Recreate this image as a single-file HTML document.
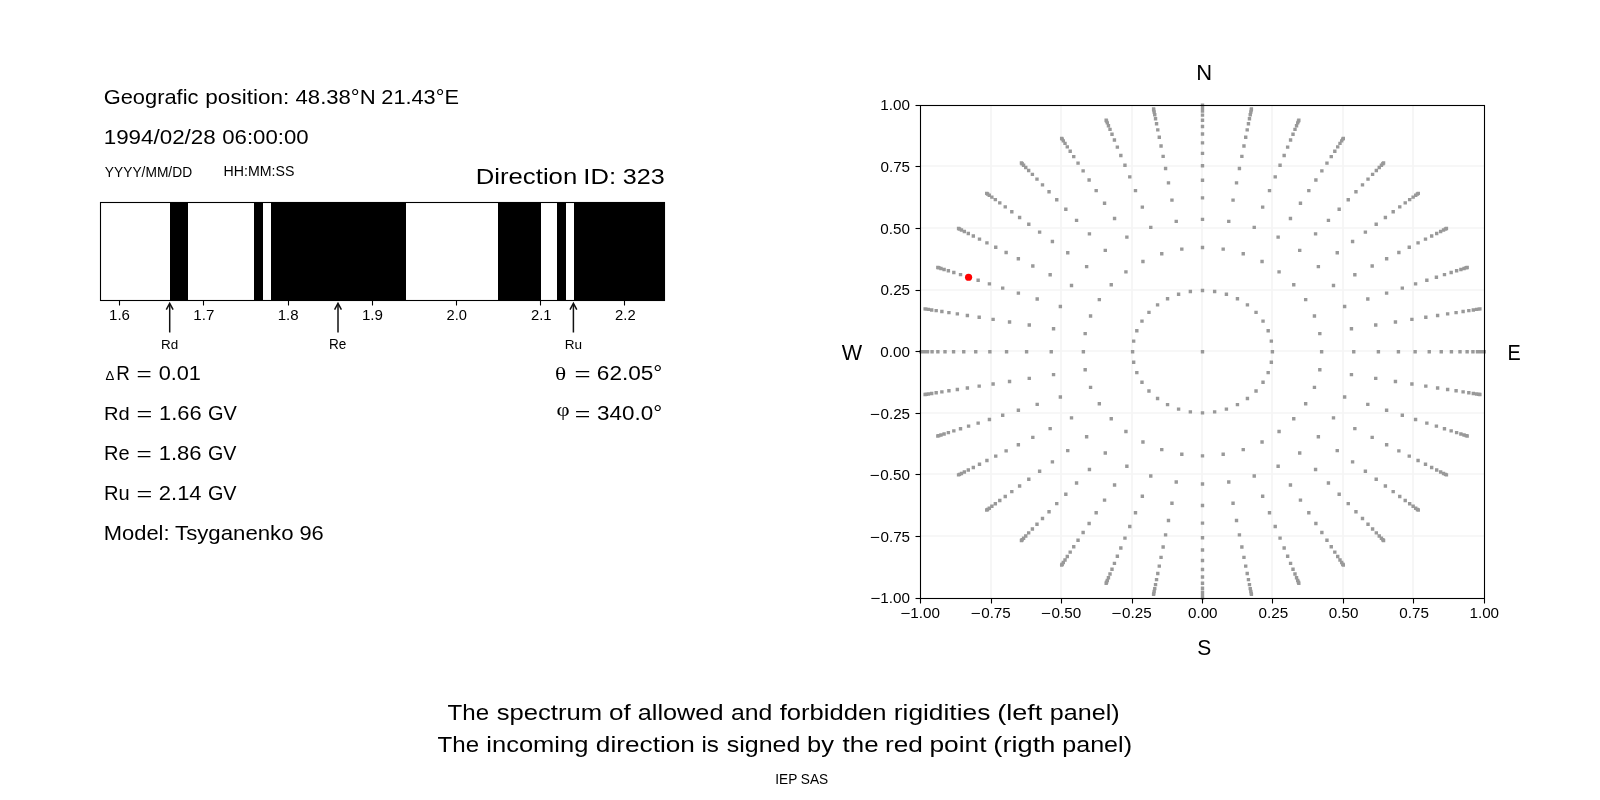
<!DOCTYPE html>
<html><head><meta charset="utf-8"><title>Rigidity spectrum</title>
<style>html,body{margin:0;padding:0;background:#fff;width:1600px;height:800px;overflow:hidden}
svg{display:block;will-change:transform}text{fill:#000}.b{}</style></head>
<body><svg width="1600" height="800" viewBox="0 0 1600 800">
<rect width="1600" height="800" fill="#fff"/>
<rect x="170" y="202" width="18" height="99" fill="#000"/>
<rect x="254" y="202" width="9" height="99" fill="#000"/>
<rect x="271" y="202" width="135" height="99" fill="#000"/>
<rect x="498" y="202" width="43" height="99" fill="#000"/>
<rect x="557" y="202" width="9" height="99" fill="#000"/>
<rect x="574" y="202" width="91" height="99" fill="#000"/>
<rect x="100.5" y="202.5" width="564" height="98" fill="none" stroke="#000" stroke-width="1.1"/>
<line x1="119.50" y1="300.5" x2="119.50" y2="305.5" stroke="#000" stroke-width="1.1"/>
<line x1="203.50" y1="300.5" x2="203.50" y2="305.5" stroke="#000" stroke-width="1.1"/>
<line x1="288.50" y1="300.5" x2="288.50" y2="305.5" stroke="#000" stroke-width="1.1"/>
<line x1="372.50" y1="300.5" x2="372.50" y2="305.5" stroke="#000" stroke-width="1.1"/>
<line x1="456.50" y1="300.5" x2="456.50" y2="305.5" stroke="#000" stroke-width="1.1"/>
<line x1="540.50" y1="300.5" x2="540.50" y2="305.5" stroke="#000" stroke-width="1.1"/>
<line x1="624.50" y1="300.5" x2="624.50" y2="305.5" stroke="#000" stroke-width="1.1"/>
<line x1="169.70" y1="304" x2="169.70" y2="332.5" stroke="#111" stroke-width="1.5"/>
<polyline points="166.30,309.6 169.70,303.3 173.10,309.6" fill="none" stroke="#111" stroke-width="1.5" stroke-linejoin="miter"/>
<line x1="338.00" y1="304" x2="338.00" y2="332.5" stroke="#111" stroke-width="1.5"/>
<polyline points="334.60,309.6 338.00,303.3 341.40,309.6" fill="none" stroke="#111" stroke-width="1.5" stroke-linejoin="miter"/>
<line x1="573.40" y1="304" x2="573.40" y2="332.5" stroke="#111" stroke-width="1.5"/>
<polyline points="570.00,309.6 573.40,303.3 576.80,309.6" fill="none" stroke="#111" stroke-width="1.5" stroke-linejoin="miter"/>
<line x1="991.00" y1="105.5" x2="991.00" y2="598.5" stroke="#f5f5f5" stroke-width="1.7"/>
<line x1="920.5" y1="536.00" x2="1484.5" y2="536.00" stroke="#f5f5f5" stroke-width="1.7"/>
<line x1="1061.00" y1="105.5" x2="1061.00" y2="598.5" stroke="#f5f5f5" stroke-width="1.7"/>
<line x1="920.5" y1="474.00" x2="1484.5" y2="474.00" stroke="#f5f5f5" stroke-width="1.7"/>
<line x1="1132.00" y1="105.5" x2="1132.00" y2="598.5" stroke="#f5f5f5" stroke-width="1.7"/>
<line x1="920.5" y1="413.00" x2="1484.5" y2="413.00" stroke="#f5f5f5" stroke-width="1.7"/>
<line x1="1202.00" y1="105.5" x2="1202.00" y2="598.5" stroke="#f5f5f5" stroke-width="1.7"/>
<line x1="920.5" y1="351.00" x2="1484.5" y2="351.00" stroke="#f5f5f5" stroke-width="1.7"/>
<line x1="1272.00" y1="105.5" x2="1272.00" y2="598.5" stroke="#f5f5f5" stroke-width="1.7"/>
<line x1="920.5" y1="290.00" x2="1484.5" y2="290.00" stroke="#f5f5f5" stroke-width="1.7"/>
<line x1="1343.00" y1="105.5" x2="1343.00" y2="598.5" stroke="#f5f5f5" stroke-width="1.7"/>
<line x1="920.5" y1="228.00" x2="1484.5" y2="228.00" stroke="#f5f5f5" stroke-width="1.7"/>
<line x1="1413.00" y1="105.5" x2="1413.00" y2="598.5" stroke="#f5f5f5" stroke-width="1.7"/>
<line x1="920.5" y1="166.00" x2="1484.5" y2="166.00" stroke="#f5f5f5" stroke-width="1.7"/>
<path d="M1200.80 350.00h3.4v3.4h-3.4zM1270.70 350.00h3.4v3.4h-3.4zM1269.64 339.38h3.4v3.4h-3.4zM1266.48 329.09h3.4v3.4h-3.4zM1261.33 319.43h3.4v3.4h-3.4zM1254.34 310.70h3.4v3.4h-3.4zM1245.73 303.16h3.4v3.4h-3.4zM1235.75 297.05h3.4v3.4h-3.4zM1224.71 292.55h3.4v3.4h-3.4zM1212.94 289.79h3.4v3.4h-3.4zM1200.80 288.86h3.4v3.4h-3.4zM1188.66 289.79h3.4v3.4h-3.4zM1176.89 292.55h3.4v3.4h-3.4zM1165.85 297.05h3.4v3.4h-3.4zM1155.87 303.16h3.4v3.4h-3.4zM1147.26 310.70h3.4v3.4h-3.4zM1140.27 319.43h3.4v3.4h-3.4zM1135.12 329.09h3.4v3.4h-3.4zM1131.96 339.38h3.4v3.4h-3.4zM1130.90 350.00h3.4v3.4h-3.4zM1131.96 360.62h3.4v3.4h-3.4zM1135.12 370.91h3.4v3.4h-3.4zM1140.27 380.57h3.4v3.4h-3.4zM1147.26 389.30h3.4v3.4h-3.4zM1155.87 396.84h3.4v3.4h-3.4zM1165.85 402.95h3.4v3.4h-3.4zM1176.89 407.45h3.4v3.4h-3.4zM1188.66 410.21h3.4v3.4h-3.4zM1200.80 411.14h3.4v3.4h-3.4zM1212.94 410.21h3.4v3.4h-3.4zM1224.71 407.45h3.4v3.4h-3.4zM1235.75 402.95h3.4v3.4h-3.4zM1245.73 396.84h3.4v3.4h-3.4zM1254.34 389.30h3.4v3.4h-3.4zM1261.33 380.57h3.4v3.4h-3.4zM1266.48 370.91h3.4v3.4h-3.4zM1269.64 360.62h3.4v3.4h-3.4zM1319.93 350.00h3.4v3.4h-3.4zM1318.12 331.90h3.4v3.4h-3.4zM1312.74 314.36h3.4v3.4h-3.4zM1303.97 297.90h3.4v3.4h-3.4zM1292.06 283.02h3.4v3.4h-3.4zM1277.37 270.17h3.4v3.4h-3.4zM1260.36 259.76h3.4v3.4h-3.4zM1241.54 252.08h3.4v3.4h-3.4zM1221.49 247.38h3.4v3.4h-3.4zM1200.80 245.79h3.4v3.4h-3.4zM1180.11 247.38h3.4v3.4h-3.4zM1160.06 252.08h3.4v3.4h-3.4zM1141.24 259.76h3.4v3.4h-3.4zM1124.23 270.17h3.4v3.4h-3.4zM1109.54 283.02h3.4v3.4h-3.4zM1097.63 297.90h3.4v3.4h-3.4zM1088.86 314.36h3.4v3.4h-3.4zM1083.48 331.90h3.4v3.4h-3.4zM1081.67 350.00h3.4v3.4h-3.4zM1083.48 368.10h3.4v3.4h-3.4zM1088.86 385.64h3.4v3.4h-3.4zM1097.63 402.10h3.4v3.4h-3.4zM1109.54 416.98h3.4v3.4h-3.4zM1124.23 429.83h3.4v3.4h-3.4zM1141.24 440.24h3.4v3.4h-3.4zM1160.06 447.92h3.4v3.4h-3.4zM1180.11 452.62h3.4v3.4h-3.4zM1200.80 454.21h3.4v3.4h-3.4zM1221.49 452.62h3.4v3.4h-3.4zM1241.54 447.92h3.4v3.4h-3.4zM1260.36 440.24h3.4v3.4h-3.4zM1277.37 429.83h3.4v3.4h-3.4zM1292.06 416.98h3.4v3.4h-3.4zM1303.97 402.10h3.4v3.4h-3.4zM1312.74 385.64h3.4v3.4h-3.4zM1318.12 368.10h3.4v3.4h-3.4zM1352.05 350.00h3.4v3.4h-3.4zM1349.75 327.03h3.4v3.4h-3.4zM1342.93 304.75h3.4v3.4h-3.4zM1331.79 283.85h3.4v3.4h-3.4zM1316.67 264.96h3.4v3.4h-3.4zM1298.02 248.65h3.4v3.4h-3.4zM1276.43 235.42h3.4v3.4h-3.4zM1252.53 225.67h3.4v3.4h-3.4zM1227.06 219.70h3.4v3.4h-3.4zM1200.80 217.69h3.4v3.4h-3.4zM1174.54 219.70h3.4v3.4h-3.4zM1149.07 225.67h3.4v3.4h-3.4zM1125.17 235.42h3.4v3.4h-3.4zM1103.58 248.65h3.4v3.4h-3.4zM1084.93 264.96h3.4v3.4h-3.4zM1069.81 283.85h3.4v3.4h-3.4zM1058.67 304.75h3.4v3.4h-3.4zM1051.85 327.03h3.4v3.4h-3.4zM1049.55 350.00h3.4v3.4h-3.4zM1051.85 372.97h3.4v3.4h-3.4zM1058.67 395.25h3.4v3.4h-3.4zM1069.81 416.15h3.4v3.4h-3.4zM1084.93 435.04h3.4v3.4h-3.4zM1103.58 451.35h3.4v3.4h-3.4zM1125.17 464.58h3.4v3.4h-3.4zM1149.07 474.33h3.4v3.4h-3.4zM1174.54 480.30h3.4v3.4h-3.4zM1200.80 482.31h3.4v3.4h-3.4zM1227.06 480.30h3.4v3.4h-3.4zM1252.53 474.33h3.4v3.4h-3.4zM1276.43 464.58h3.4v3.4h-3.4zM1298.02 451.35h3.4v3.4h-3.4zM1316.67 435.04h3.4v3.4h-3.4zM1331.79 416.15h3.4v3.4h-3.4zM1342.93 395.25h3.4v3.4h-3.4zM1349.75 372.97h3.4v3.4h-3.4zM1376.70 350.00h3.4v3.4h-3.4zM1374.03 323.28h3.4v3.4h-3.4zM1366.10 297.37h3.4v3.4h-3.4zM1353.14 273.07h3.4v3.4h-3.4zM1335.55 251.09h3.4v3.4h-3.4zM1313.87 232.13h3.4v3.4h-3.4zM1288.75 216.74h3.4v3.4h-3.4zM1260.96 205.41h3.4v3.4h-3.4zM1231.35 198.47h3.4v3.4h-3.4zM1200.80 196.13h3.4v3.4h-3.4zM1170.25 198.47h3.4v3.4h-3.4zM1140.64 205.41h3.4v3.4h-3.4zM1112.85 216.74h3.4v3.4h-3.4zM1087.73 232.13h3.4v3.4h-3.4zM1066.05 251.09h3.4v3.4h-3.4zM1048.46 273.07h3.4v3.4h-3.4zM1035.50 297.37h3.4v3.4h-3.4zM1027.57 323.28h3.4v3.4h-3.4zM1024.90 350.00h3.4v3.4h-3.4zM1027.57 376.72h3.4v3.4h-3.4zM1035.50 402.63h3.4v3.4h-3.4zM1048.46 426.93h3.4v3.4h-3.4zM1066.05 448.91h3.4v3.4h-3.4zM1087.73 467.87h3.4v3.4h-3.4zM1112.85 483.26h3.4v3.4h-3.4zM1140.64 494.59h3.4v3.4h-3.4zM1170.25 501.53h3.4v3.4h-3.4zM1200.80 503.87h3.4v3.4h-3.4zM1231.35 501.53h3.4v3.4h-3.4zM1260.96 494.59h3.4v3.4h-3.4zM1288.75 483.26h3.4v3.4h-3.4zM1313.87 467.87h3.4v3.4h-3.4zM1335.55 448.91h3.4v3.4h-3.4zM1353.14 426.93h3.4v3.4h-3.4zM1366.10 402.63h3.4v3.4h-3.4zM1374.03 376.72h3.4v3.4h-3.4zM1396.73 350.00h3.4v3.4h-3.4zM1393.75 320.24h3.4v3.4h-3.4zM1384.91 291.38h3.4v3.4h-3.4zM1370.48 264.31h3.4v3.4h-3.4zM1350.89 239.84h3.4v3.4h-3.4zM1326.74 218.71h3.4v3.4h-3.4zM1298.76 201.58h3.4v3.4h-3.4zM1267.81 188.95h3.4v3.4h-3.4zM1234.82 181.22h3.4v3.4h-3.4zM1200.80 178.62h3.4v3.4h-3.4zM1166.78 181.22h3.4v3.4h-3.4zM1133.79 188.95h3.4v3.4h-3.4zM1102.84 201.58h3.4v3.4h-3.4zM1074.86 218.71h3.4v3.4h-3.4zM1050.71 239.84h3.4v3.4h-3.4zM1031.12 264.31h3.4v3.4h-3.4zM1016.69 291.38h3.4v3.4h-3.4zM1007.85 320.24h3.4v3.4h-3.4zM1004.87 350.00h3.4v3.4h-3.4zM1007.85 379.76h3.4v3.4h-3.4zM1016.69 408.62h3.4v3.4h-3.4zM1031.12 435.69h3.4v3.4h-3.4zM1050.71 460.16h3.4v3.4h-3.4zM1074.86 481.29h3.4v3.4h-3.4zM1102.84 498.42h3.4v3.4h-3.4zM1133.79 511.05h3.4v3.4h-3.4zM1166.78 518.78h3.4v3.4h-3.4zM1200.80 521.38h3.4v3.4h-3.4zM1234.82 518.78h3.4v3.4h-3.4zM1267.81 511.05h3.4v3.4h-3.4zM1298.76 498.42h3.4v3.4h-3.4zM1326.74 481.29h3.4v3.4h-3.4zM1350.89 460.16h3.4v3.4h-3.4zM1370.48 435.69h3.4v3.4h-3.4zM1384.91 408.62h3.4v3.4h-3.4zM1393.75 379.76h3.4v3.4h-3.4zM1413.43 350.00h3.4v3.4h-3.4zM1410.20 317.70h3.4v3.4h-3.4zM1400.61 286.39h3.4v3.4h-3.4zM1384.94 257.00h3.4v3.4h-3.4zM1363.68 230.44h3.4v3.4h-3.4zM1337.48 207.52h3.4v3.4h-3.4zM1307.12 188.92h3.4v3.4h-3.4zM1273.52 175.22h3.4v3.4h-3.4zM1237.72 166.83h3.4v3.4h-3.4zM1200.80 164.01h3.4v3.4h-3.4zM1163.88 166.83h3.4v3.4h-3.4zM1128.08 175.22h3.4v3.4h-3.4zM1094.48 188.92h3.4v3.4h-3.4zM1064.12 207.52h3.4v3.4h-3.4zM1037.92 230.44h3.4v3.4h-3.4zM1016.66 257.00h3.4v3.4h-3.4zM1000.99 286.39h3.4v3.4h-3.4zM991.40 317.70h3.4v3.4h-3.4zM988.17 350.00h3.4v3.4h-3.4zM991.40 382.30h3.4v3.4h-3.4zM1000.99 413.61h3.4v3.4h-3.4zM1016.66 443.00h3.4v3.4h-3.4zM1037.92 469.56h3.4v3.4h-3.4zM1064.12 492.48h3.4v3.4h-3.4zM1094.48 511.08h3.4v3.4h-3.4zM1128.08 524.78h3.4v3.4h-3.4zM1163.88 533.17h3.4v3.4h-3.4zM1200.80 535.99h3.4v3.4h-3.4zM1237.72 533.17h3.4v3.4h-3.4zM1273.52 524.78h3.4v3.4h-3.4zM1307.12 511.08h3.4v3.4h-3.4zM1337.48 492.48h3.4v3.4h-3.4zM1363.68 469.56h3.4v3.4h-3.4zM1384.94 443.00h3.4v3.4h-3.4zM1400.61 413.61h3.4v3.4h-3.4zM1410.20 382.30h3.4v3.4h-3.4zM1427.55 350.00h3.4v3.4h-3.4zM1424.11 315.56h3.4v3.4h-3.4zM1413.88 282.16h3.4v3.4h-3.4zM1397.17 250.83h3.4v3.4h-3.4zM1374.50 222.51h3.4v3.4h-3.4zM1346.55 198.06h3.4v3.4h-3.4zM1314.18 178.23h3.4v3.4h-3.4zM1278.35 163.62h3.4v3.4h-3.4zM1240.17 154.67h3.4v3.4h-3.4zM1200.80 151.65h3.4v3.4h-3.4zM1161.43 154.67h3.4v3.4h-3.4zM1123.25 163.62h3.4v3.4h-3.4zM1087.42 178.23h3.4v3.4h-3.4zM1055.05 198.06h3.4v3.4h-3.4zM1027.10 222.51h3.4v3.4h-3.4zM1004.43 250.83h3.4v3.4h-3.4zM987.72 282.16h3.4v3.4h-3.4zM977.49 315.56h3.4v3.4h-3.4zM974.05 350.00h3.4v3.4h-3.4zM977.49 384.44h3.4v3.4h-3.4zM987.72 417.84h3.4v3.4h-3.4zM1004.43 449.17h3.4v3.4h-3.4zM1027.10 477.49h3.4v3.4h-3.4zM1055.05 501.94h3.4v3.4h-3.4zM1087.42 521.77h3.4v3.4h-3.4zM1123.25 536.38h3.4v3.4h-3.4zM1161.43 545.33h3.4v3.4h-3.4zM1200.80 548.35h3.4v3.4h-3.4zM1240.17 545.33h3.4v3.4h-3.4zM1278.35 536.38h3.4v3.4h-3.4zM1314.18 521.77h3.4v3.4h-3.4zM1346.55 501.94h3.4v3.4h-3.4zM1374.50 477.49h3.4v3.4h-3.4zM1397.17 449.17h3.4v3.4h-3.4zM1413.88 417.84h3.4v3.4h-3.4zM1424.11 384.44h3.4v3.4h-3.4zM1439.55 350.00h3.4v3.4h-3.4zM1435.92 313.74h3.4v3.4h-3.4zM1425.15 278.57h3.4v3.4h-3.4zM1407.56 245.58h3.4v3.4h-3.4zM1383.69 215.76h3.4v3.4h-3.4zM1354.26 190.02h3.4v3.4h-3.4zM1320.17 169.14h3.4v3.4h-3.4zM1282.46 153.76h3.4v3.4h-3.4zM1242.26 144.33h3.4v3.4h-3.4zM1200.80 141.16h3.4v3.4h-3.4zM1159.34 144.33h3.4v3.4h-3.4zM1119.14 153.76h3.4v3.4h-3.4zM1081.43 169.14h3.4v3.4h-3.4zM1047.34 190.02h3.4v3.4h-3.4zM1017.91 215.76h3.4v3.4h-3.4zM994.04 245.58h3.4v3.4h-3.4zM976.45 278.57h3.4v3.4h-3.4zM965.68 313.74h3.4v3.4h-3.4zM962.05 350.00h3.4v3.4h-3.4zM965.68 386.26h3.4v3.4h-3.4zM976.45 421.43h3.4v3.4h-3.4zM994.04 454.42h3.4v3.4h-3.4zM1017.91 484.24h3.4v3.4h-3.4zM1047.34 509.98h3.4v3.4h-3.4zM1081.43 530.86h3.4v3.4h-3.4zM1119.14 546.24h3.4v3.4h-3.4zM1159.34 555.67h3.4v3.4h-3.4zM1200.80 558.84h3.4v3.4h-3.4zM1242.26 555.67h3.4v3.4h-3.4zM1282.46 546.24h3.4v3.4h-3.4zM1320.17 530.86h3.4v3.4h-3.4zM1354.26 509.98h3.4v3.4h-3.4zM1383.69 484.24h3.4v3.4h-3.4zM1407.56 454.42h3.4v3.4h-3.4zM1425.15 421.43h3.4v3.4h-3.4zM1435.92 386.26h3.4v3.4h-3.4zM1449.72 350.00h3.4v3.4h-3.4zM1445.94 312.19h3.4v3.4h-3.4zM1434.71 275.53h3.4v3.4h-3.4zM1416.37 241.13h3.4v3.4h-3.4zM1391.49 210.04h3.4v3.4h-3.4zM1360.80 183.20h3.4v3.4h-3.4zM1325.26 161.43h3.4v3.4h-3.4zM1285.94 145.39h3.4v3.4h-3.4zM1244.02 135.57h3.4v3.4h-3.4zM1200.80 132.26h3.4v3.4h-3.4zM1157.58 135.57h3.4v3.4h-3.4zM1115.66 145.39h3.4v3.4h-3.4zM1076.34 161.43h3.4v3.4h-3.4zM1040.80 183.20h3.4v3.4h-3.4zM1010.11 210.04h3.4v3.4h-3.4zM985.23 241.13h3.4v3.4h-3.4zM966.89 275.53h3.4v3.4h-3.4zM955.66 312.19h3.4v3.4h-3.4zM951.88 350.00h3.4v3.4h-3.4zM955.66 387.81h3.4v3.4h-3.4zM966.89 424.47h3.4v3.4h-3.4zM985.23 458.87h3.4v3.4h-3.4zM1010.11 489.96h3.4v3.4h-3.4zM1040.80 516.80h3.4v3.4h-3.4zM1076.34 538.57h3.4v3.4h-3.4zM1115.66 554.61h3.4v3.4h-3.4zM1157.58 564.43h3.4v3.4h-3.4zM1200.80 567.74h3.4v3.4h-3.4zM1244.02 564.43h3.4v3.4h-3.4zM1285.94 554.61h3.4v3.4h-3.4zM1325.26 538.57h3.4v3.4h-3.4zM1360.80 516.80h3.4v3.4h-3.4zM1391.49 489.96h3.4v3.4h-3.4zM1416.37 458.87h3.4v3.4h-3.4zM1434.71 424.47h3.4v3.4h-3.4zM1445.94 387.81h3.4v3.4h-3.4zM1458.30 350.00h3.4v3.4h-3.4zM1454.39 310.89h3.4v3.4h-3.4zM1442.77 272.96h3.4v3.4h-3.4zM1423.80 237.38h3.4v3.4h-3.4zM1398.06 205.22h3.4v3.4h-3.4zM1366.32 177.45h3.4v3.4h-3.4zM1329.55 154.93h3.4v3.4h-3.4zM1288.87 138.34h3.4v3.4h-3.4zM1245.51 128.18h3.4v3.4h-3.4zM1200.80 124.76h3.4v3.4h-3.4zM1156.09 128.18h3.4v3.4h-3.4zM1112.73 138.34h3.4v3.4h-3.4zM1072.05 154.93h3.4v3.4h-3.4zM1035.28 177.45h3.4v3.4h-3.4zM1003.54 205.22h3.4v3.4h-3.4zM977.80 237.38h3.4v3.4h-3.4zM958.83 272.96h3.4v3.4h-3.4zM947.21 310.89h3.4v3.4h-3.4zM943.30 350.00h3.4v3.4h-3.4zM947.21 389.11h3.4v3.4h-3.4zM958.83 427.04h3.4v3.4h-3.4zM977.80 462.62h3.4v3.4h-3.4zM1003.54 494.78h3.4v3.4h-3.4zM1035.28 522.55h3.4v3.4h-3.4zM1072.05 545.07h3.4v3.4h-3.4zM1112.73 561.66h3.4v3.4h-3.4zM1156.09 571.82h3.4v3.4h-3.4zM1200.80 575.24h3.4v3.4h-3.4zM1245.51 571.82h3.4v3.4h-3.4zM1288.87 561.66h3.4v3.4h-3.4zM1329.55 545.07h3.4v3.4h-3.4zM1366.32 522.55h3.4v3.4h-3.4zM1398.06 494.78h3.4v3.4h-3.4zM1423.80 462.62h3.4v3.4h-3.4zM1442.77 427.04h3.4v3.4h-3.4zM1454.39 389.11h3.4v3.4h-3.4zM1465.43 350.00h3.4v3.4h-3.4zM1461.41 309.80h3.4v3.4h-3.4zM1449.47 270.83h3.4v3.4h-3.4zM1429.97 234.26h3.4v3.4h-3.4zM1403.52 201.21h3.4v3.4h-3.4zM1370.90 172.68h3.4v3.4h-3.4zM1333.11 149.53h3.4v3.4h-3.4zM1291.31 132.48h3.4v3.4h-3.4zM1246.75 122.04h3.4v3.4h-3.4zM1200.80 118.52h3.4v3.4h-3.4zM1154.85 122.04h3.4v3.4h-3.4zM1110.29 132.48h3.4v3.4h-3.4zM1068.49 149.53h3.4v3.4h-3.4zM1030.70 172.68h3.4v3.4h-3.4zM998.08 201.21h3.4v3.4h-3.4zM971.63 234.26h3.4v3.4h-3.4zM952.13 270.83h3.4v3.4h-3.4zM940.19 309.80h3.4v3.4h-3.4zM936.17 350.00h3.4v3.4h-3.4zM940.19 390.20h3.4v3.4h-3.4zM952.13 429.17h3.4v3.4h-3.4zM971.63 465.74h3.4v3.4h-3.4zM998.08 498.79h3.4v3.4h-3.4zM1030.70 527.32h3.4v3.4h-3.4zM1068.49 550.47h3.4v3.4h-3.4zM1110.29 567.52h3.4v3.4h-3.4zM1154.85 577.96h3.4v3.4h-3.4zM1200.80 581.48h3.4v3.4h-3.4zM1246.75 577.96h3.4v3.4h-3.4zM1291.31 567.52h3.4v3.4h-3.4zM1333.11 550.47h3.4v3.4h-3.4zM1370.90 527.32h3.4v3.4h-3.4zM1403.52 498.79h3.4v3.4h-3.4zM1429.97 465.74h3.4v3.4h-3.4zM1449.47 429.17h3.4v3.4h-3.4zM1461.41 390.20h3.4v3.4h-3.4zM1471.23 350.00h3.4v3.4h-3.4zM1467.12 308.92h3.4v3.4h-3.4zM1454.92 269.10h3.4v3.4h-3.4zM1434.99 231.73h3.4v3.4h-3.4zM1407.96 197.95h3.4v3.4h-3.4zM1374.63 168.79h3.4v3.4h-3.4zM1336.01 145.14h3.4v3.4h-3.4zM1293.29 127.72h3.4v3.4h-3.4zM1247.76 117.04h3.4v3.4h-3.4zM1200.80 113.45h3.4v3.4h-3.4zM1153.84 117.04h3.4v3.4h-3.4zM1108.31 127.72h3.4v3.4h-3.4zM1065.59 145.14h3.4v3.4h-3.4zM1026.97 168.79h3.4v3.4h-3.4zM993.64 197.95h3.4v3.4h-3.4zM966.61 231.73h3.4v3.4h-3.4zM946.68 269.10h3.4v3.4h-3.4zM934.48 308.92h3.4v3.4h-3.4zM930.37 350.00h3.4v3.4h-3.4zM934.48 391.08h3.4v3.4h-3.4zM946.68 430.90h3.4v3.4h-3.4zM966.61 468.27h3.4v3.4h-3.4zM993.64 502.05h3.4v3.4h-3.4zM1026.97 531.21h3.4v3.4h-3.4zM1065.59 554.86h3.4v3.4h-3.4zM1108.31 572.28h3.4v3.4h-3.4zM1153.84 582.96h3.4v3.4h-3.4zM1200.80 586.55h3.4v3.4h-3.4zM1247.76 582.96h3.4v3.4h-3.4zM1293.29 572.28h3.4v3.4h-3.4zM1336.01 554.86h3.4v3.4h-3.4zM1374.63 531.21h3.4v3.4h-3.4zM1407.96 502.05h3.4v3.4h-3.4zM1434.99 468.27h3.4v3.4h-3.4zM1454.92 430.90h3.4v3.4h-3.4zM1467.12 391.08h3.4v3.4h-3.4zM1475.78 350.00h3.4v3.4h-3.4zM1471.60 308.23h3.4v3.4h-3.4zM1459.19 267.73h3.4v3.4h-3.4zM1438.94 229.73h3.4v3.4h-3.4zM1411.44 195.39h3.4v3.4h-3.4zM1377.55 165.74h3.4v3.4h-3.4zM1338.29 141.69h3.4v3.4h-3.4zM1294.85 123.98h3.4v3.4h-3.4zM1248.55 113.12h3.4v3.4h-3.4zM1200.80 109.47h3.4v3.4h-3.4zM1153.05 113.12h3.4v3.4h-3.4zM1106.75 123.98h3.4v3.4h-3.4zM1063.31 141.69h3.4v3.4h-3.4zM1024.05 165.74h3.4v3.4h-3.4zM990.16 195.39h3.4v3.4h-3.4zM962.66 229.73h3.4v3.4h-3.4zM942.41 267.73h3.4v3.4h-3.4zM930.00 308.23h3.4v3.4h-3.4zM925.82 350.00h3.4v3.4h-3.4zM930.00 391.77h3.4v3.4h-3.4zM942.41 432.27h3.4v3.4h-3.4zM962.66 470.27h3.4v3.4h-3.4zM990.16 504.61h3.4v3.4h-3.4zM1024.05 534.26h3.4v3.4h-3.4zM1063.31 558.31h3.4v3.4h-3.4zM1106.75 576.02h3.4v3.4h-3.4zM1153.05 586.88h3.4v3.4h-3.4zM1200.80 590.53h3.4v3.4h-3.4zM1248.55 586.88h3.4v3.4h-3.4zM1294.85 576.02h3.4v3.4h-3.4zM1338.29 558.31h3.4v3.4h-3.4zM1377.55 534.26h3.4v3.4h-3.4zM1411.44 504.61h3.4v3.4h-3.4zM1438.94 470.27h3.4v3.4h-3.4zM1459.19 432.27h3.4v3.4h-3.4zM1471.60 391.77h3.4v3.4h-3.4zM1479.14 350.00h3.4v3.4h-3.4zM1474.91 307.72h3.4v3.4h-3.4zM1462.35 266.73h3.4v3.4h-3.4zM1441.85 228.26h3.4v3.4h-3.4zM1414.02 193.50h3.4v3.4h-3.4zM1379.71 163.49h3.4v3.4h-3.4zM1339.97 139.15h3.4v3.4h-3.4zM1296.00 121.21h3.4v3.4h-3.4zM1249.13 110.23h3.4v3.4h-3.4zM1200.80 106.53h3.4v3.4h-3.4zM1152.47 110.23h3.4v3.4h-3.4zM1105.60 121.21h3.4v3.4h-3.4zM1061.63 139.15h3.4v3.4h-3.4zM1021.89 163.49h3.4v3.4h-3.4zM987.58 193.50h3.4v3.4h-3.4zM959.75 228.26h3.4v3.4h-3.4zM939.25 266.73h3.4v3.4h-3.4zM926.69 307.72h3.4v3.4h-3.4zM922.46 350.00h3.4v3.4h-3.4zM926.69 392.28h3.4v3.4h-3.4zM939.25 433.27h3.4v3.4h-3.4zM959.75 471.74h3.4v3.4h-3.4zM987.58 506.50h3.4v3.4h-3.4zM1021.89 536.51h3.4v3.4h-3.4zM1061.63 560.85h3.4v3.4h-3.4zM1105.60 578.79h3.4v3.4h-3.4zM1152.47 589.77h3.4v3.4h-3.4zM1200.80 593.47h3.4v3.4h-3.4zM1249.13 589.77h3.4v3.4h-3.4zM1296.00 578.79h3.4v3.4h-3.4zM1339.97 560.85h3.4v3.4h-3.4zM1379.71 536.51h3.4v3.4h-3.4zM1414.02 506.50h3.4v3.4h-3.4zM1441.85 471.74h3.4v3.4h-3.4zM1462.35 433.27h3.4v3.4h-3.4zM1474.91 392.28h3.4v3.4h-3.4zM1481.36 350.00h3.4v3.4h-3.4zM1477.10 307.38h3.4v3.4h-3.4zM1464.44 266.06h3.4v3.4h-3.4zM1443.77 227.29h3.4v3.4h-3.4zM1415.72 192.25h3.4v3.4h-3.4zM1381.14 162.00h3.4v3.4h-3.4zM1341.08 137.46h3.4v3.4h-3.4zM1296.76 119.39h3.4v3.4h-3.4zM1249.52 108.31h3.4v3.4h-3.4zM1200.80 104.59h3.4v3.4h-3.4zM1152.08 108.31h3.4v3.4h-3.4zM1104.84 119.39h3.4v3.4h-3.4zM1060.52 137.46h3.4v3.4h-3.4zM1020.46 162.00h3.4v3.4h-3.4zM985.88 192.25h3.4v3.4h-3.4zM957.83 227.29h3.4v3.4h-3.4zM937.16 266.06h3.4v3.4h-3.4zM924.50 307.38h3.4v3.4h-3.4zM920.24 350.00h3.4v3.4h-3.4zM924.50 392.62h3.4v3.4h-3.4zM937.16 433.94h3.4v3.4h-3.4zM957.83 472.71h3.4v3.4h-3.4zM985.88 507.75h3.4v3.4h-3.4zM1020.46 538.00h3.4v3.4h-3.4zM1060.52 562.54h3.4v3.4h-3.4zM1104.84 580.61h3.4v3.4h-3.4zM1152.08 591.69h3.4v3.4h-3.4zM1200.80 595.41h3.4v3.4h-3.4zM1249.52 591.69h3.4v3.4h-3.4zM1296.76 580.61h3.4v3.4h-3.4zM1341.08 562.54h3.4v3.4h-3.4zM1381.14 538.00h3.4v3.4h-3.4zM1415.72 507.75h3.4v3.4h-3.4zM1443.77 472.71h3.4v3.4h-3.4zM1464.44 433.94h3.4v3.4h-3.4zM1477.10 392.62h3.4v3.4h-3.4zM1482.46 350.00h3.4v3.4h-3.4zM1478.18 307.22h3.4v3.4h-3.4zM1465.48 265.73h3.4v3.4h-3.4zM1444.73 226.81h3.4v3.4h-3.4zM1416.57 191.63h3.4v3.4h-3.4zM1381.85 161.26h3.4v3.4h-3.4zM1341.63 136.63h3.4v3.4h-3.4zM1297.13 118.48h3.4v3.4h-3.4zM1249.71 107.36h3.4v3.4h-3.4zM1200.80 103.62h3.4v3.4h-3.4zM1151.89 107.36h3.4v3.4h-3.4zM1104.47 118.48h3.4v3.4h-3.4zM1059.97 136.63h3.4v3.4h-3.4zM1019.75 161.26h3.4v3.4h-3.4zM985.03 191.63h3.4v3.4h-3.4zM956.87 226.81h3.4v3.4h-3.4zM936.12 265.73h3.4v3.4h-3.4zM923.42 307.22h3.4v3.4h-3.4zM919.14 350.00h3.4v3.4h-3.4zM923.42 392.78h3.4v3.4h-3.4zM936.12 434.27h3.4v3.4h-3.4zM956.87 473.19h3.4v3.4h-3.4zM985.03 508.37h3.4v3.4h-3.4zM1019.75 538.74h3.4v3.4h-3.4zM1059.97 563.37h3.4v3.4h-3.4zM1104.47 581.52h3.4v3.4h-3.4zM1151.89 592.64h3.4v3.4h-3.4zM1200.80 596.38h3.4v3.4h-3.4zM1249.71 592.64h3.4v3.4h-3.4zM1297.13 581.52h3.4v3.4h-3.4zM1341.63 563.37h3.4v3.4h-3.4zM1381.85 538.74h3.4v3.4h-3.4zM1416.57 508.37h3.4v3.4h-3.4zM1444.73 473.19h3.4v3.4h-3.4zM1465.48 434.27h3.4v3.4h-3.4zM1478.18 392.78h3.4v3.4h-3.4z" fill="#999999"/>
<circle cx="968.58" cy="277.23" r="3.6" fill="#ff0000"/>
<rect x="920.5" y="105.5" width="564" height="493" fill="none" stroke="#000" stroke-width="1.1"/>
<line x1="915.5" y1="105.50" x2="920.5" y2="105.50" stroke="#000" stroke-width="1.1"/>
<line x1="1484.50" y1="598.5" x2="1484.50" y2="603.5" stroke="#000" stroke-width="1.1"/>
<line x1="915.5" y1="166.50" x2="920.5" y2="166.50" stroke="#000" stroke-width="1.1"/>
<line x1="1413.50" y1="598.5" x2="1413.50" y2="603.5" stroke="#000" stroke-width="1.1"/>
<line x1="915.5" y1="228.50" x2="920.5" y2="228.50" stroke="#000" stroke-width="1.1"/>
<line x1="1343.50" y1="598.5" x2="1343.50" y2="603.5" stroke="#000" stroke-width="1.1"/>
<line x1="915.5" y1="290.50" x2="920.5" y2="290.50" stroke="#000" stroke-width="1.1"/>
<line x1="1272.50" y1="598.5" x2="1272.50" y2="603.5" stroke="#000" stroke-width="1.1"/>
<line x1="915.5" y1="351.50" x2="920.5" y2="351.50" stroke="#000" stroke-width="1.1"/>
<line x1="1202.50" y1="598.5" x2="1202.50" y2="603.5" stroke="#000" stroke-width="1.1"/>
<line x1="915.5" y1="413.50" x2="920.5" y2="413.50" stroke="#000" stroke-width="1.1"/>
<line x1="1132.50" y1="598.5" x2="1132.50" y2="603.5" stroke="#000" stroke-width="1.1"/>
<line x1="915.5" y1="474.50" x2="920.5" y2="474.50" stroke="#000" stroke-width="1.1"/>
<line x1="1061.50" y1="598.5" x2="1061.50" y2="603.5" stroke="#000" stroke-width="1.1"/>
<line x1="915.5" y1="536.50" x2="920.5" y2="536.50" stroke="#000" stroke-width="1.1"/>
<line x1="991.50" y1="598.5" x2="991.50" y2="603.5" stroke="#000" stroke-width="1.1"/>
<line x1="915.5" y1="598.50" x2="920.5" y2="598.50" stroke="#000" stroke-width="1.1"/>
<line x1="920.50" y1="598.5" x2="920.50" y2="603.5" stroke="#000" stroke-width="1.1"/>
<text transform="matrix(0.15241 0 0 0.14286 880.290 110.200)" font-family="Liberation Sans" font-size="100">1.00</text>
<text transform="matrix(0.15241 0 0 0.14286 880.443 172.125)" font-family="Liberation Sans" font-size="100">0.75</text>
<text transform="matrix(0.15241 0 0 0.14286 880.290 233.750)" font-family="Liberation Sans" font-size="100">0.50</text>
<text transform="matrix(0.15241 0 0 0.14286 880.443 295.375)" font-family="Liberation Sans" font-size="100">0.25</text>
<text transform="matrix(0.15241 0 0 0.14286 880.290 357.000)" font-family="Liberation Sans" font-size="100">0.00</text>
<text transform="matrix(0.15241 0 0 0.14286 880.443 418.625)" font-family="Liberation Sans" font-size="100">0.25</text>
<text transform="matrix(0.17143 0 0 0.14286 869.695 418.625)" font-family="Liberation Sans" font-size="100">−</text>
<text transform="matrix(0.15241 0 0 0.14286 880.290 480.250)" font-family="Liberation Sans" font-size="100">0.50</text>
<text transform="matrix(0.17143 0 0 0.14286 869.543 480.250)" font-family="Liberation Sans" font-size="100">−</text>
<text transform="matrix(0.15241 0 0 0.14286 880.443 541.875)" font-family="Liberation Sans" font-size="100">0.75</text>
<text transform="matrix(0.17143 0 0 0.14286 869.695 541.875)" font-family="Liberation Sans" font-size="100">−</text>
<text transform="matrix(0.15241 0 0 0.14286 880.290 602.500)" font-family="Liberation Sans" font-size="100">1.00</text>
<text transform="matrix(0.17143 0 0 0.14286 870.152 602.500)" font-family="Liberation Sans" font-size="100">−</text>
<text transform="matrix(0.15241 0 0 0.14143 1469.436 617.900)" font-family="Liberation Sans" font-size="100">1.00</text>
<text transform="matrix(0.15241 0 0 0.14143 1399.367 617.900)" font-family="Liberation Sans" font-size="100">0.75</text>
<text transform="matrix(0.15241 0 0 0.14143 1328.840 617.900)" font-family="Liberation Sans" font-size="100">0.50</text>
<text transform="matrix(0.15241 0 0 0.14143 1258.467 617.900)" font-family="Liberation Sans" font-size="100">0.25</text>
<text transform="matrix(0.15241 0 0 0.14143 1187.940 617.900)" font-family="Liberation Sans" font-size="100">0.00</text>
<text transform="matrix(0.17143 0 0 0.14143 1111.319 617.900)" font-family="Liberation Sans" font-size="100">−</text>
<text transform="matrix(0.15241 0 0 0.14143 1122.067 617.900)" font-family="Liberation Sans" font-size="100">0.25</text>
<text transform="matrix(0.17143 0 0 0.14143 1040.793 617.900)" font-family="Liberation Sans" font-size="100">−</text>
<text transform="matrix(0.15241 0 0 0.14143 1051.540 617.900)" font-family="Liberation Sans" font-size="100">0.50</text>
<text transform="matrix(0.17143 0 0 0.14143 970.419 617.900)" font-family="Liberation Sans" font-size="100">−</text>
<text transform="matrix(0.15241 0 0 0.14143 981.167 617.900)" font-family="Liberation Sans" font-size="100">0.75</text>
<text transform="matrix(0.17143 0 0 0.14143 900.198 617.900)" font-family="Liberation Sans" font-size="100">−</text>
<text transform="matrix(0.15241 0 0 0.14143 910.336 617.900)" font-family="Liberation Sans" font-size="100">1.00</text>
<text class="b" transform="matrix(0.21890 0 0 0.20000 103.656 104.000)" font-family="Liberation Sans" font-size="100">Geografic</text>
<text class="b" transform="matrix(0.22528 0 0 0.20000 205.323 104.000)" font-family="Liberation Sans" font-size="100">position:</text>
<text class="b" transform="matrix(0.22102 0 0 0.20000 295.558 104.000)" font-family="Liberation Sans" font-size="100">48.38°N</text>
<text class="b" transform="matrix(0.21753 0 0 0.20000 381.312 104.000)" font-family="Liberation Sans" font-size="100">21.43°E</text>
<text class="b" transform="matrix(0.22398 0 0 0.19568 103.708 143.900)" font-family="Liberation Sans" font-size="100">1994/02/28</text>
<text class="b" transform="matrix(0.22205 0 0 0.19568 222.212 143.900)" font-family="Liberation Sans" font-size="100">06:00:00</text>
<text transform="matrix(0.13778 0 0 0.13885 104.837 176.900)" font-family="Liberation Sans" font-size="100">YYYY/MM/DD</text>
<text transform="matrix(0.14168 0 0 0.14029 223.617 176.250)" font-family="Liberation Sans" font-size="100">HH:MM:SS</text>
<text class="b" transform="matrix(0.25750 0 0 0.22518 475.690 183.750)" font-family="Liberation Sans" font-size="100">Direction</text>
<text class="b" transform="matrix(0.25591 0 0 0.22518 583.297 183.750)" font-family="Liberation Sans" font-size="100">ID:</text>
<text class="b" transform="matrix(0.25158 0 0 0.22357 622.744 183.750)" font-family="Liberation Sans" font-size="100">323</text>
<text transform="matrix(0.13451 0 0 0.13669 160.924 348.800)" font-family="Liberation Sans" font-size="100">Rd</text>
<text transform="matrix(0.13565 0 0 0.13942 328.915 348.750)" font-family="Liberation Sans" font-size="100">Re</text>
<text transform="matrix(0.13584 0 0 0.12950 564.813 348.600)" font-family="Liberation Sans" font-size="100">Ru</text>
<text transform="matrix(0.13197 0 0 0.13478 105.554 379.800)" font-family="Liberation Sans" font-size="100">Δ</text>
<text transform="matrix(0.18814 0 0 0.19568 116.295 379.700)" font-family="Liberation Sans" font-size="100">R</text>
<text transform="matrix(0.26042 0 0 0.18125 136.498 380.081)" font-family="Liberation Sans" font-size="100">=</text>
<text class="b" transform="matrix(0.21720 0 0 0.19571 158.631 379.700)" font-family="Liberation Sans" font-size="100">0.01</text>
<text class="b" transform="matrix(0.20088 0 0 0.19281 104.093 419.700)" font-family="Liberation Sans" font-size="100">Rd</text>
<text transform="matrix(0.26979 0 0 0.18125 136.451 420.081)" font-family="Liberation Sans" font-size="100">=</text>
<text class="b" transform="matrix(0.21868 0 0 0.19571 159.051 419.700)" font-family="Liberation Sans" font-size="100">1.66</text>
<text class="b" transform="matrix(0.20000 0 0 0.19712 207.900 419.700)" font-family="Liberation Sans" font-size="100">GV</text>
<text class="b" transform="matrix(0.20000 0 0 0.19568 104.100 459.700)" font-family="Liberation Sans" font-size="100">Re</text>
<text transform="matrix(0.26042 0 0 0.18125 136.498 460.081)" font-family="Liberation Sans" font-size="100">=</text>
<text class="b" transform="matrix(0.22033 0 0 0.19571 158.737 459.700)" font-family="Liberation Sans" font-size="100">1.86</text>
<text class="b" transform="matrix(0.19712 0 0 0.19712 207.914 459.700)" font-family="Liberation Sans" font-size="100">GV</text>
<text class="b" transform="matrix(0.20088 0 0 0.19568 104.093 499.700)" font-family="Liberation Sans" font-size="100">Ru</text>
<text transform="matrix(0.26979 0 0 0.18125 136.451 500.081)" font-family="Liberation Sans" font-size="100">=</text>
<text class="b" transform="matrix(0.22005 0 0 0.19571 158.800 499.700)" font-family="Liberation Sans" font-size="100">2.14</text>
<text class="b" transform="matrix(0.19856 0 0 0.19712 207.907 499.700)" font-family="Liberation Sans" font-size="100">GV</text>
<text class="b" transform="matrix(0.21943 0 0 0.20504 103.745 540.000)" font-family="Liberation Sans" font-size="100">Model:</text>
<text class="b" transform="matrix(0.22220 0 0 0.20504 175.056 540.000)" font-family="Liberation Sans" font-size="100">Tsyganenko</text>
<text class="b" transform="matrix(0.21863 0 0 0.20357 299.407 540.000)" font-family="Liberation Sans" font-size="100">96</text>
<text transform="matrix(0.23333 0 0 0.18028 554.933 379.620)" font-family="Liberation Serif" font-size="100">θ</text>
<text transform="matrix(0.27500 0 0 0.18750 574.525 380.188)" font-family="Liberation Sans" font-size="100">=</text>
<text class="b" transform="matrix(0.22581 0 0 0.19856 596.871 379.800)" font-family="Liberation Sans" font-size="100">62.05°</text>
<text transform="matrix(0.22800 0 0 0.18971 556.588 415.816)" font-family="Liberation Serif" font-size="100">φ</text>
<text transform="matrix(0.26667 0 0 0.18125 574.767 420.081)" font-family="Liberation Sans" font-size="100">=</text>
<text class="b" transform="matrix(0.22429 0 0 0.19712 597.103 419.700)" font-family="Liberation Sans" font-size="100">340.0°</text>
<text transform="matrix(0.21964 0 0 0.22662 1196.243 79.850)" font-family="Liberation Sans" font-size="100">N</text>
<text transform="matrix(0.21613 0 0 0.22662 841.684 359.850)" font-family="Liberation Sans" font-size="100">W</text>
<text transform="matrix(0.19815 0 0 0.22662 1507.415 359.850)" font-family="Liberation Sans" font-size="100">E</text>
<text transform="matrix(0.21053 0 0 0.21295 1197.147 655.400)" font-family="Liberation Sans" font-size="100">S</text>
<text class="b" transform="matrix(0.24096 0 0 0.22014 447.618 719.750)" font-family="Liberation Sans" font-size="100">The</text>
<text class="b" transform="matrix(0.25647 0 0 0.22014 496.731 719.750)" font-family="Liberation Sans" font-size="100">spectrum</text>
<text class="b" transform="matrix(0.26076 0 0 0.22014 608.957 719.750)" font-family="Liberation Sans" font-size="100">of</text>
<text class="b" transform="matrix(0.25258 0 0 0.22014 637.790 719.750)" font-family="Liberation Sans" font-size="100">allowed</text>
<text class="b" transform="matrix(0.24808 0 0 0.22014 730.908 719.750)" font-family="Liberation Sans" font-size="100">and</text>
<text class="b" transform="matrix(0.25610 0 0 0.22014 779.744 719.750)" font-family="Liberation Sans" font-size="100">forbidden</text>
<text class="b" transform="matrix(0.26348 0 0 0.22014 893.756 719.750)" font-family="Liberation Sans" font-size="100">rigidities</text>
<text class="b" transform="matrix(0.27031 0 0 0.22014 997.128 719.750)" font-family="Liberation Sans" font-size="100">(left</text>
<text class="b" transform="matrix(0.25094 0 0 0.22014 1049.843 719.750)" font-family="Liberation Sans" font-size="100">panel)</text>
<text class="b" transform="matrix(0.24096 0 0 0.21727 437.618 751.700)" font-family="Liberation Sans" font-size="100">The</text>
<text class="b" transform="matrix(0.25530 0 0 0.21727 486.313 751.700)" font-family="Liberation Sans" font-size="100">incoming</text>
<text class="b" transform="matrix(0.26213 0 0 0.21727 595.851 751.700)" font-family="Liberation Sans" font-size="100">direction</text>
<text class="b" transform="matrix(0.24194 0 0 0.21727 701.406 751.700)" font-family="Liberation Sans" font-size="100">is</text>
<text class="b" transform="matrix(0.25000 0 0 0.21727 726.750 751.700)" font-family="Liberation Sans" font-size="100">signed</text>
<text class="b" transform="matrix(0.25510 0 0 0.21727 806.964 751.700)" font-family="Liberation Sans" font-size="100">by</text>
<text class="b" transform="matrix(0.25865 0 0 0.21727 842.583 751.700)" font-family="Liberation Sans" font-size="100">the</text>
<text class="b" transform="matrix(0.26221 0 0 0.21727 885.065 751.700)" font-family="Liberation Sans" font-size="100">red</text>
<text class="b" transform="matrix(0.26316 0 0 0.21727 929.408 751.700)" font-family="Liberation Sans" font-size="100">point</text>
<text class="b" transform="matrix(0.27209 0 0 0.21727 993.367 751.700)" font-family="Liberation Sans" font-size="100">(rigth</text>
<text class="b" transform="matrix(0.25094 0 0 0.21727 1062.243 751.700)" font-family="Liberation Sans" font-size="100">panel)</text>
<text transform="matrix(0.13690 0 0 0.13957 775.268 783.900)" font-family="Liberation Sans" font-size="100">IEP SAS</text>
<text transform="matrix(0.15039 0 0 0.14071 109.087 319.850)" font-family="Liberation Sans" font-size="100">1.6</text>
<text transform="matrix(0.15159 0 0 0.14071 193.337 319.850)" font-family="Liberation Sans" font-size="100">1.7</text>
<text transform="matrix(0.15039 0 0 0.14071 277.647 319.850)" font-family="Liberation Sans" font-size="100">1.8</text>
<text transform="matrix(0.15159 0 0 0.14071 361.937 319.850)" font-family="Liberation Sans" font-size="100">1.9</text>
<text transform="matrix(0.14692 0 0 0.14071 446.615 319.850)" font-family="Liberation Sans" font-size="100">2.0</text>
<text transform="matrix(0.14806 0 0 0.14071 530.910 319.850)" font-family="Liberation Sans" font-size="100">2.1</text>
<text transform="matrix(0.14806 0 0 0.14071 615.110 319.850)" font-family="Liberation Sans" font-size="100">2.2</text>
</svg></body></html>
